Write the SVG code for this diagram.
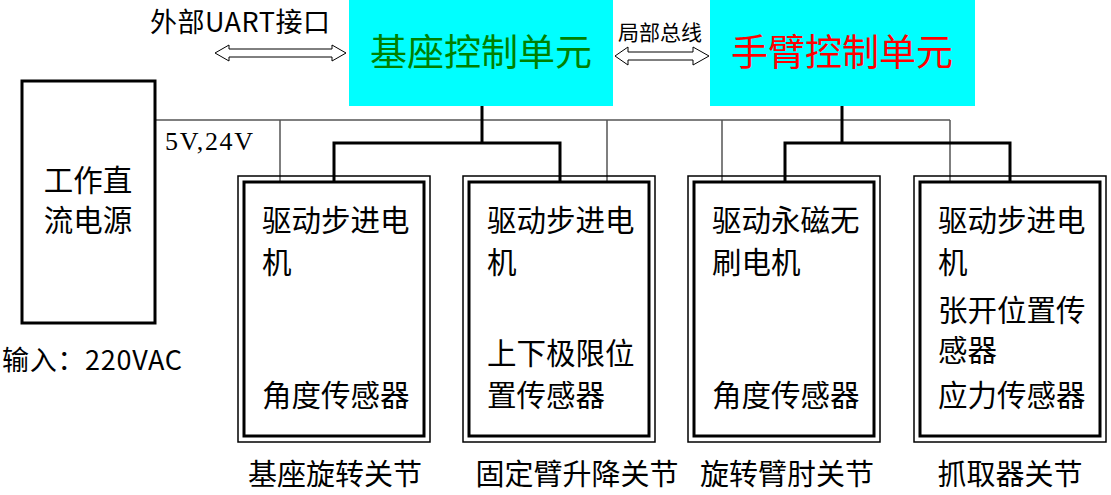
<svg xmlns="http://www.w3.org/2000/svg" width="1111" height="495" viewBox="0 0 1111 495">
<style>
text{font-family:"Noto Sans CJK SC","Liberation Sans",sans-serif;fill:#000}
.t{font-size:29.5px}
.b{font-size:29px}
.o{fill:none;stroke:#000;stroke-width:1.5}
.i{fill:none;stroke:#000;stroke-width:3}
.pw{fill:none;stroke:#555;stroke-width:1.5}
.cl{fill:none;stroke:#000;stroke-width:3}
</style>
<rect width="1111" height="495" fill="#fff"/>
<g id="connectors">
<polyline class="pw" points="155,120 950,120"/>
<line class="pw" x1="280" y1="120" x2="280" y2="182"/>
<line class="pw" x1="607" y1="120" x2="607" y2="182"/>
<line class="pw" x1="722" y1="120" x2="722" y2="182"/>
<line class="pw" x1="950" y1="120" x2="950" y2="182"/>
<polyline class="cl" points="482,106 482,143"/>
<polyline class="cl" points="334,182 334,143 560,143 560,182"/>
<polyline class="cl" points="842,106 842,143"/>
<polyline class="cl" points="785,182 785,143 1010,143 1010,182"/>
<path d="M215,53 L229,45 L229,49 L332,49 L332,45 L346,53 L332,61 L332,57 L229,57 L229,61 Z" fill="#fff" stroke="#000" stroke-width="1"/>
<path d="M615,56 L628,47 L628,52 L693,52 L693,47 L709,56 L693,65 L693,60 L628,60 L628,65 Z" fill="#fff" stroke="#000" stroke-width="1"/>
<text x="165" y="150" textLength="88" style="font-family:'Liberation Serif',serif;font-size:26px">5V,24V</text>
<text x="150" y="32" textLength="180" style="font-size:27px">外部UART接口</text>
<text x="618" y="40" style="font-size:21px;font-family:'Noto Sans CJK SC',serif" fill="#333">局部总线</text>
</g>
<g id="base">
<rect x="349" y="0" width="264" height="106" fill="#00ffff"/>
<text x="481" y="66" text-anchor="middle" style="font-size:37px;fill:#008000">基座控制单元</text>
</g>
<g id="arm">
<rect x="710" y="0" width="265" height="106" fill="#00ffff"/>
<text x="842" y="66" text-anchor="middle" style="font-size:37px;fill:#ff0000">手臂控制单元</text>
</g>
<g id="power">
<rect x="22" y="81" width="133" height="242" fill="#fff" stroke="#000" stroke-width="3"/>
<text x="88" y="191" text-anchor="middle" class="t">工作直</text>
<text x="88" y="231" text-anchor="middle" class="t">流电源</text>
<text x="2" y="370" textLength="180" style="font-size:27px">输入：220VAC</text>
</g>
<g id="j1">
<rect class="o" x="238" y="176" width="192" height="266"/>
<rect class="i" x="244" y="182" width="180" height="254"/>
<text x="262" y="231" class="t">驱动步进电</text>
<text x="262" y="273" class="t">机</text>
<text x="262" y="406" class="t">角度传感器</text>
<text x="335" y="485" text-anchor="middle" class="b">基座旋转关节</text>
</g>
<g id="j2">
<rect class="o" x="463" y="176" width="192" height="266"/>
<rect class="i" x="469" y="182" width="180" height="254"/>
<text x="487" y="231" class="t">驱动步进电</text>
<text x="487" y="273" class="t">机</text>
<text x="487" y="364" class="t">上下极限位</text>
<text x="487" y="406" class="t">置传感器</text>
<text x="577" y="485" text-anchor="middle" class="b">固定臂升降关节</text>
</g>
<g id="j3">
<rect class="o" x="688" y="176" width="192" height="266"/>
<rect class="i" x="694" y="182" width="180" height="254"/>
<text x="712" y="231" class="t">驱动永磁无</text>
<text x="712" y="273" class="t">刷电机</text>
<text x="712" y="406" class="t">角度传感器</text>
<text x="787" y="485" text-anchor="middle" class="b">旋转臂肘关节</text>
</g>
<g id="j4">
<rect class="o" x="914" y="176" width="192" height="266"/>
<rect class="i" x="920" y="182" width="180" height="254"/>
<text x="938" y="231" class="t">驱动步进电</text>
<text x="938" y="273" class="t">机</text>
<text x="938" y="321" class="t">张开位置传</text>
<text x="938" y="361" class="t">感器</text>
<text x="938" y="406" class="t">应力传感器</text>
<text x="1010" y="485" text-anchor="middle" class="b">抓取器关节</text>
</g>
</svg>
